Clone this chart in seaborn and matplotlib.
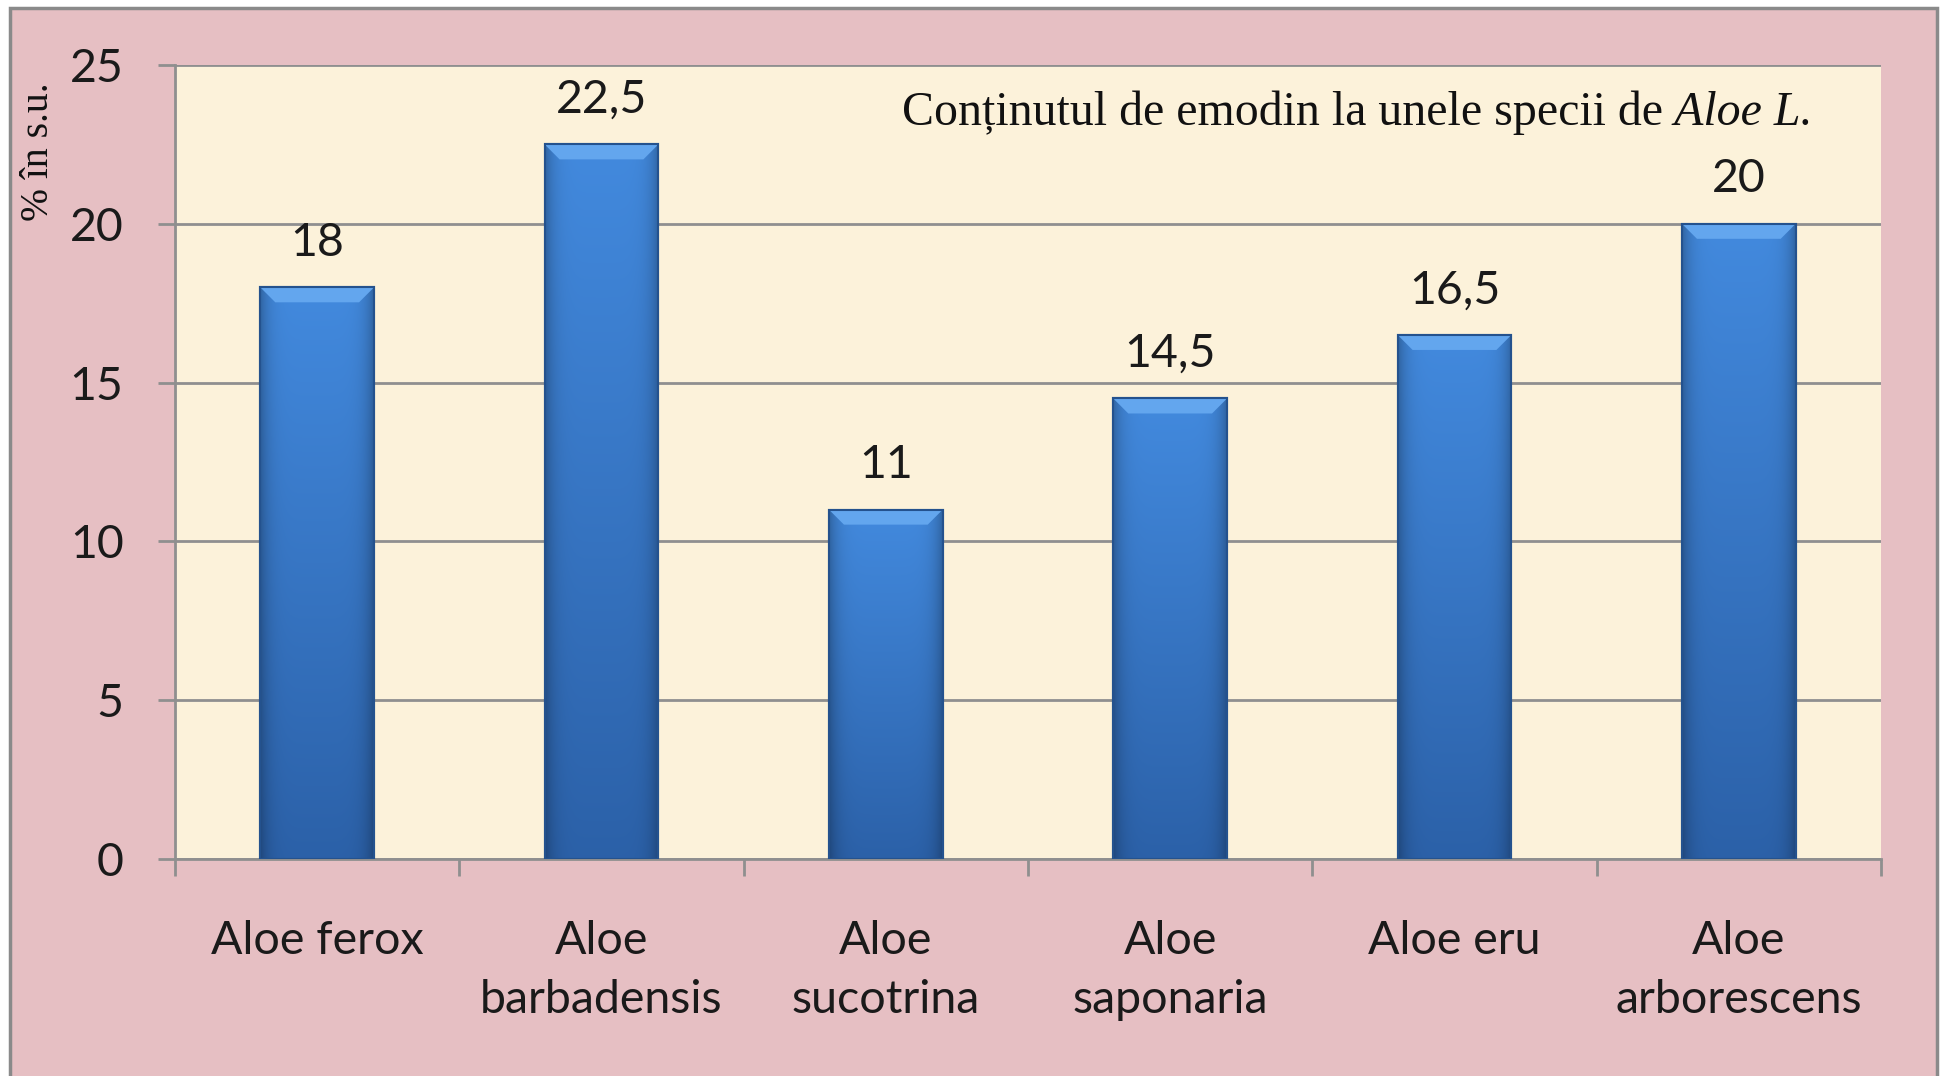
import numpy as np
import pandas as pd
import matplotlib
matplotlib.use("Agg")
import matplotlib.pyplot as plt
from matplotlib.patches import Rectangle, Polygon
import seaborn as sns

# ---- data ----
species = ["Aloe ferox", "Aloe\nbarbadensis", "Aloe\nsucotrina",
           "Aloe\nsaponaria", "Aloe eru", "Aloe\narborescens"]
emodin = [18, 22.5, 11, 14.5, 16.5, 20]
value_labels = ["18", "22,5", "11", "14,5", "16,5", "20"]
y_ticks = [0, 5, 10, 15, 20, 25]
title_normal = "Conținutul de emodin la unele specii de"
title_italic = " Aloe L."
ylabel = "% în s.u."

# ---- style ----
sns.set_theme(style="white")
plt.rcParams["font.family"] = ["Lato", "DejaVu Sans"]

W, H = 1943, 1076
fig = plt.figure(figsize=(W / 100, H / 100), dpi=100)
fig.patch.set_facecolor("white")

PINK = "#e6bfc3"
CREAM = "#fcf2da"
GRID = "#8f8f8f"
FS = 33.5

fig.patches.append(Rectangle((10 / W, -0.02), (1937 - 10) / W, 1.02 - 8 / H,
                             transform=fig.transFigure, facecolor=PINK,
                             edgecolor="#8a8a8a", lw=2.5, zorder=-10))

ax = fig.add_axes([175 / W, (H - 859) / H, (1881 - 175) / W, (859 - 65) / H])
ax.set_facecolor(CREAM)

df = pd.DataFrame({"species": species, "emodin": emodin})
sns.barplot(data=df, x="species", y="emodin", color="#3a7acb", width=0.4,
            saturation=1, edgecolor="#24528e", linewidth=1.5, ax=ax, zorder=3)

ax.set_ylim(0, 25)
ax.set_xlim(-0.5, 5.5)

# gradient + bevel on each bar (geometry taken from the seaborn patches)
ax_h_px = 859 - 65
ax_w_px = 1881 - 175
bevel_px = 15
dy = bevel_px * 25 / ax_h_px
dx = bevel_px * 6 / ax_w_px
ny, nx = 200, 60
yy = np.linspace(0, 1, ny)[:, None]
xx = np.linspace(0, 1, nx)[None, :]
top = np.array([0.26, 0.54, 0.87])
bot = np.array([0.17, 0.38, 0.66])
base = bot[None, None, :] * (1 - yy[..., None]) + top[None, None, :] * yy[..., None]
edge = 1 - 0.25 * (np.abs(xx - 0.5) * 2) ** 6
img = np.clip(base * edge[..., None], 0, 1)
for p in list(ax.patches):
    x0, w, h = p.get_x(), p.get_width(), p.get_height()
    im = ax.imshow(img, extent=[x0, x0 + w, 0, h], origin="lower",
                   aspect="auto", zorder=3.1, interpolation="bilinear")
    im.set_clip_path(p)
    bev = Polygon([(x0, h), (x0 + w, h), (x0 + w - dx, h - dy), (x0 + dx, h - dy)],
                  closed=True, facecolor="#63a6ee", edgecolor="none", zorder=3.2)
    ax.add_patch(bev)
    ax.add_patch(Rectangle((x0, 0), w, h, facecolor="none",
                           edgecolor="#24528e", lw=1.5, zorder=3.3))

ax.set_ylim(0, 25)
ax.set_xlim(-0.5, 5.5)
ax.set_aspect("auto")

# value labels
for c in ax.containers:
    ax.bar_label(c, labels=value_labels, padding=17, fontsize=FS,
                 color="#1a1a1a", zorder=5)

# axes
ax.set_yticks(y_ticks)
ax.set_yticklabels([str(t) for t in y_ticks])
ax.yaxis.grid(True, color=GRID, lw=2)
ax.xaxis.grid(False)
ax.set_axisbelow(True)
ax.tick_params(axis="y", left=True, length=12, width=2, color=GRID,
               labelsize=FS, pad=25, labelcolor="#1a1a1a", direction="out")
ax.set_xticks(range(len(species)))
ax.set_xticklabels(species, fontsize=FS, color="#1a1a1a", linespacing=1.5)
ax.set_xticks(np.arange(-0.5, len(species), 1.0), minor=True)
ax.tick_params(axis="x", which="major", bottom=True, length=0, pad=44)
ax.tick_params(axis="x", which="minor", bottom=True, length=12, width=2,
               color=GRID, direction="out")
ax.set_xlabel("")
ax.set_ylabel("")
for s in ["top", "right"]:
    ax.spines[s].set_visible(False)
for s in ["left", "bottom"]:
    ax.spines[s].set_color(GRID)
    ax.spines[s].set_linewidth(2)

# y label
fig.text(39 / W, 1 - 152 / H, ylabel, rotation=90, ha="center", va="center",
         fontsize=28.5, family=["Liberation Serif", "DejaVu Serif"], color="#111111")

# title (normal + italic part)
fig.canvas.draw()
r = fig.canvas.get_renderer()
t2 = ax.text(0.9601, 0.9244, title_italic, transform=ax.transAxes, ha="right",
             va="baseline", fontsize=34.5, style="italic",
             family=["Liberation Serif", "DejaVu Serif"], color="#111111", zorder=6)
bb = t2.get_window_extent(r)
xa = ax.transAxes.inverted().transform((bb.x0, bb.y0))[0]
ax.text(xa, 0.9244, title_normal, transform=ax.transAxes, ha="right",
        va="baseline", fontsize=34.5,
        family=["Liberation Serif", "DejaVu Serif"], color="#111111", zorder=6)

fig.savefig("out.png", dpi=100, facecolor=fig.get_facecolor())
